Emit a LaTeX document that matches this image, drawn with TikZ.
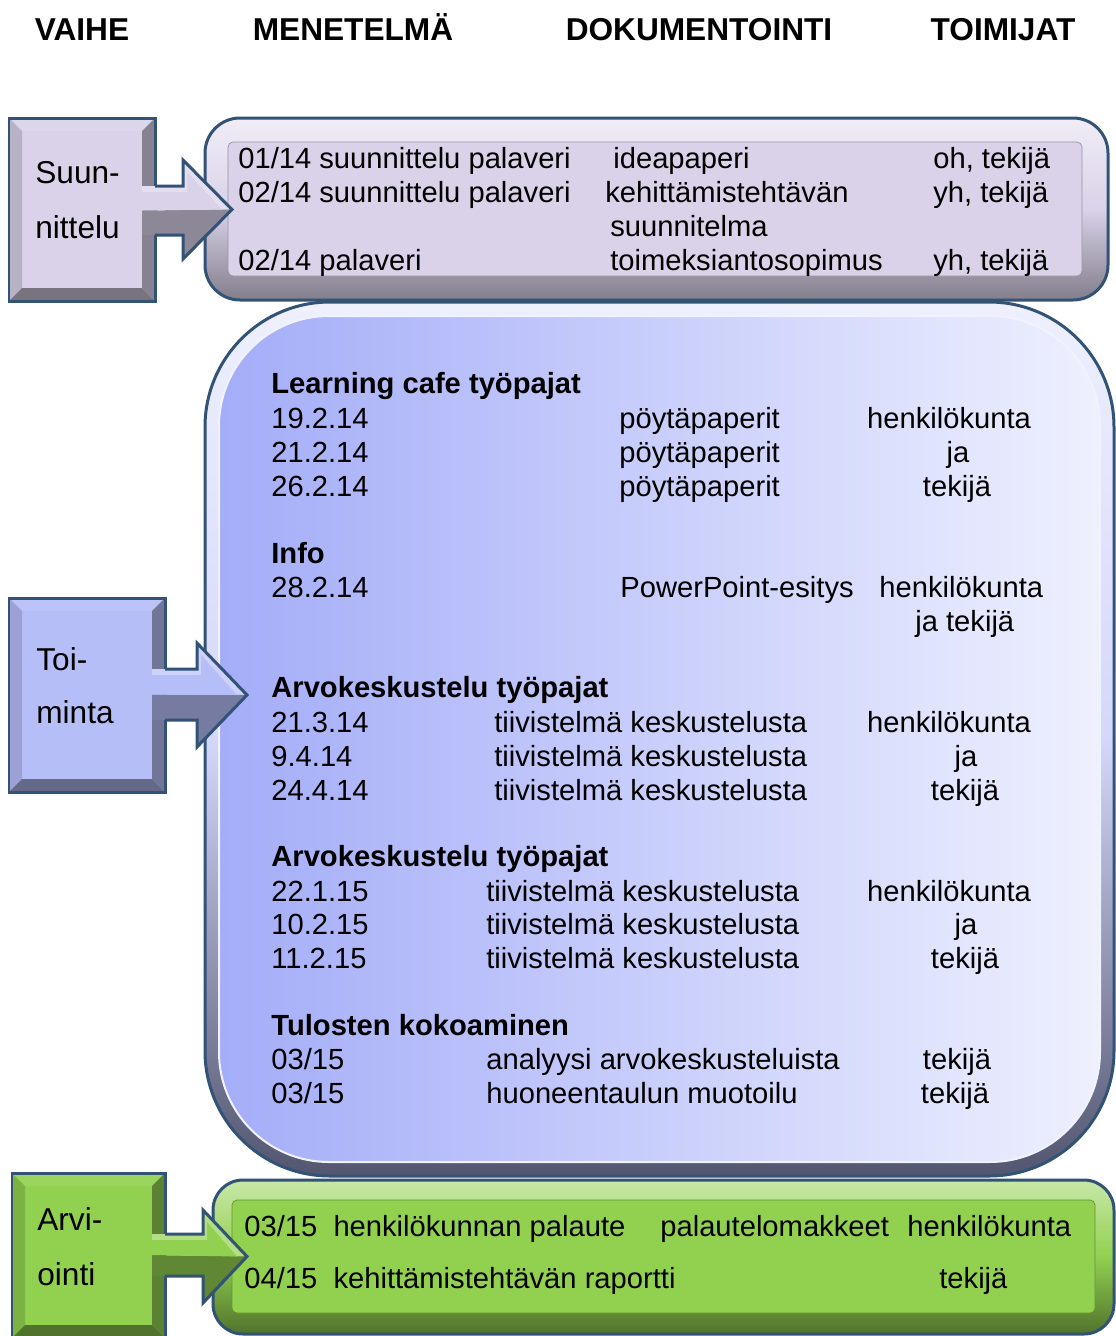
\documentclass[tikz,border=0pt]{standalone}
\usepackage{fontspec}
\setmainfont{Liberation Sans}
\usepackage{xcolor}
\usetikzlibrary{positioning, calc}

\definecolor{edgeblue}{RGB}{50,82,118}
\definecolor{lav}{RGB}{217,210,233}
\definecolor{blu}{RGB}{182,190,247}
\definecolor{grn}{RGB}{146,208,80}
\definecolor{bluL}{RGB}{164,173,248}
\definecolor{bluR}{RGB}{238,240,254}

\begin{document}
\begin{tikzpicture}[x=0.02cm, y=-0.02cm,
    font=\fontsize{16.6}{20}\selectfont,
    txt/.style={anchor=base west, inner sep=0pt},
    mid/.style={anchor=base, inner sep=0pt},
    grp/.style={txt, font=\fontsize{16.6}{20}\selectfont\bfseries},
    hdr/.style={mid, font=\fontsize{18}{22}\selectfont\bfseries},
    phase/.style={txt, font=\fontsize{18}{22}\selectfont},
    rim/.style={draw=edgeblue, line width=0.06cm}]
  \useasboundingbox (0,0) rectangle (1116,1336);

  % column headings
  \node[hdr] (hvaihe) at (82,40) {VAIHE};
  \node[hdr] (hmene) at (353,40) {MENETELMÄ};
  \node[hdr] (hdoku) at (699,40) {DOKUMENTOINTI};
  \node[hdr] (htoim) at (1003,40) {TOIMIJAT};

  % panels
  \shade[top color=lav!40!white, bottom color=lav!60!black, middle color=lav,
         rounded corners=0.7cm] (205,118) rectangle (1108,300);
  \draw[rim, rounded corners=0.7cm] (205,118) rectangle (1108,300);
  \draw[fill=lav, draw=lav!70!black, rounded corners=0.1cm] (228,142) rectangle (1082,276);

  \shade[top color=bluR, bottom color=blu!45!black, middle color=blu!60!white,
         rounded corners=2.5cm] (205,302) rectangle (1114,1176);
  \shade[left color=bluL, right color=bluR, rounded corners=2.2cm] (219,316) rectangle (1100,1162);
  \draw[white!80!blu, line width=0.04cm, rounded corners=2.2cm] (219,316) rectangle (1100,1162);
  \draw[rim, rounded corners=2.5cm] (205,302) rectangle (1114,1176);

  \shade[top color=grn!50!white, bottom color=grn!55!black, middle color=grn,
         rounded corners=0.6cm] (213,1180) rectangle (1114,1334);
  \draw[rim, rounded corners=0.6cm] (213,1180) rectangle (1114,1334);
  \draw[fill=grn, draw=grn!70!black, rounded corners=0.1cm] (232,1200) rectangle (1095,1313);

  % phase boxes with block arrows
  \foreach \nm/\l/\t/\r/\b/\st/\sb/\hx/\ht/\hb/\tx/\col in {
      suun/9/118/155/301/186/235/183/160/259/232/lav,
      toim/9/598/165/792/669/720/197/643/747/247/blu,
      arvi/12/1173/165/1338/1234/1276/203/1210/1303/247/grn} {
    \fill[\col] (\l,\t) rectangle (\r,\b);
    \fill[\col!92!white] (\l,\t) -- (\r,\t) -- (\r-13,\t+13) -- (\l+13,\t+13) -- cycle;
    \fill[\col!85!black] (\l,\t) -- (\l+13,\t+13) -- (\l+13,\b-13) -- (\l,\b) -- cycle;
    \fill[\col!62!black] (\r,\t) -- (\r-13,\t+13) -- (\r-13,\b-13) -- (\r,\b) -- cycle;
    \fill[\col!55!black] (\l,\b) -- (\l+13,\b-13) -- (\r-13,\b-13) -- (\r,\b) -- cycle;
    \draw[rim] (\l,\t) rectangle (\r,\b);
    % arrow: light upper half, dark lower half
    \fill[\col!70!white] (\r-13,\st) -- (\hx,\st) -- (\hx,\ht)
      -- (\tx,{(\ht+\hb)/2}) -- (\r-13,{(\st+\sb)/2}) -- cycle;
    \fill[\col!65!black] (\r-13,{(\st+\sb)/2}) -- (\tx,{(\ht+\hb)/2}) -- (\hx,\hb)
      -- (\hx,\sb) -- (\r-13,\sb) -- cycle;
    \fill[\col] (\r-13,{\st+6}) -- (\hx+4,{\st+6}) -- (\hx+4,\ht+12)
      -- (\tx-10,{(\ht+\hb)/2}) -- (\r-13,{(\st+\sb)/2}) -- cycle;
    \draw[rim, line join=miter] (\r,\st) -- (\hx,\st) -- (\hx,\ht)
      -- (\tx,{(\ht+\hb)/2}) -- (\hx,\hb) -- (\hx,\sb) -- (\r,\sb);
  }

  \node[phase] (suun1) at (35,183) {Suun-};
  \node[phase] (suun2) at (35,238) {nittelu};
  \node[phase] (toim1) at (36,670) {Toi-};
  \node[phase] (toim2) at (36,723) {minta};
  \node[phase] (arvi1) at (37,1230) {Arvi-};
  \node[phase] (arvi2) at (37,1285) {ointi};

  % Suunnittelu
  \node[txt] (s1m) at (238,168) {01/14 suunnittelu palaveri};
  \node[txt] (s1d) at (613,168) {ideapaperi};
  \node[txt] (s1t) at (933,168) {oh, tekijä};
  \node[txt] (s2m) at (238,202) {02/14 suunnittelu palaveri};
  \node[txt] (s2d) at (605,202) {kehittämistehtävän};
  \node[txt] (s2t) at (933,202) {yh, tekijä};
  \node[txt] (s2e) at (610,236) {suunnitelma};
  \node[txt] (s3m) at (238,270) {02/14 palaveri};
  \node[txt] (s3d) at (610,270) {toimeksiantosopimus};
  \node[txt] (s3t) at (933,270) {yh, tekijä};

  % Toiminta
  \node[grp] (lc) at (271,393) {Learning cafe työpajat};
  \foreach \d/\y/\w/\cx [count=\i] in {19.2.14/428/henkilökunta/949,
      21.2.14/462/ja/958, 26.2.14/496/tekijä/957} {
    \node[txt] (lcd\i) at (271,\y) {\d};
    \node[txt] (lcp\i) at (619,\y) {pöytäpaperit};
    \node[mid] (lcw\i) at (\cx,\y) {\w};
  }

  \node[grp] (info) at (271,563) {Info};
  \node[txt] (infod) at (271,597) {28.2.14};
  \node[txt] (infop) at (620,597) {PowerPoint-esitys};
  \node[txt] (infow) at (879,597) {henkilökunta};
  \node[txt] (infow2) at (915,631) {ja tekijä};

  \node[grp] (ak1) at (271,697) {Arvokeskustelu työpajat};
  \foreach \d/\y/\w/\cx [count=\i] in {21.3.14/732/henkilökunta/949,
      9.4.14/766/ja/966, 24.4.14/800/tekijä/965} {
    \node[txt] (akad\i) at (271,\y) {\d};
    \node[txt] (akap\i) at (494,\y) {tiivistelmä keskustelusta};
    \node[mid] (akaw\i) at (\cx,\y) {\w};
  }

  \node[grp] (ak2) at (271,866) {Arvokeskustelu työpajat};
  \foreach \d/\y/\w/\cx [count=\i] in {22.1.15/901/henkilökunta/949,
      10.2.15/934/ja/966, 11.2.15/968/tekijä/965} {
    \node[txt] (akbd\i) at (271,\y) {\d};
    \node[txt] (akbp\i) at (486,\y) {tiivistelmä keskustelusta};
    \node[mid] (akbw\i) at (\cx,\y) {\w};
  }

  \node[grp] (tk) at (271,1035) {Tulosten kokoaminen};
  \node[txt] (tkd1) at (271,1069) {03/15};
  \node[txt] (tkp1) at (486,1069) {analyysi arvokeskusteluista};
  \node[mid] (tkw1) at (957,1069) {tekijä};
  \node[txt] (tkd2) at (271,1103) {03/15};
  \node[txt] (tkp2) at (486,1103) {huoneentaulun muotoilu};
  \node[mid] (tkw2) at (955,1103) {tekijä};

  % Arviointi
  \node[txt] (a1m) at (244,1236) {03/15\ \ henkilökunnan palaute};
  \node[txt] (a1d) at (660,1236) {palautelomakkeet};
  \node[txt] (a1t) at (907,1236) {henkilökunta};
  \node[txt] (a2m) at (244,1288) {04/15\ \ kehittämistehtävän raportti};
  \node[txt] (a2t) at (939,1288) {tekijä};
\end{tikzpicture}
\end{document}
